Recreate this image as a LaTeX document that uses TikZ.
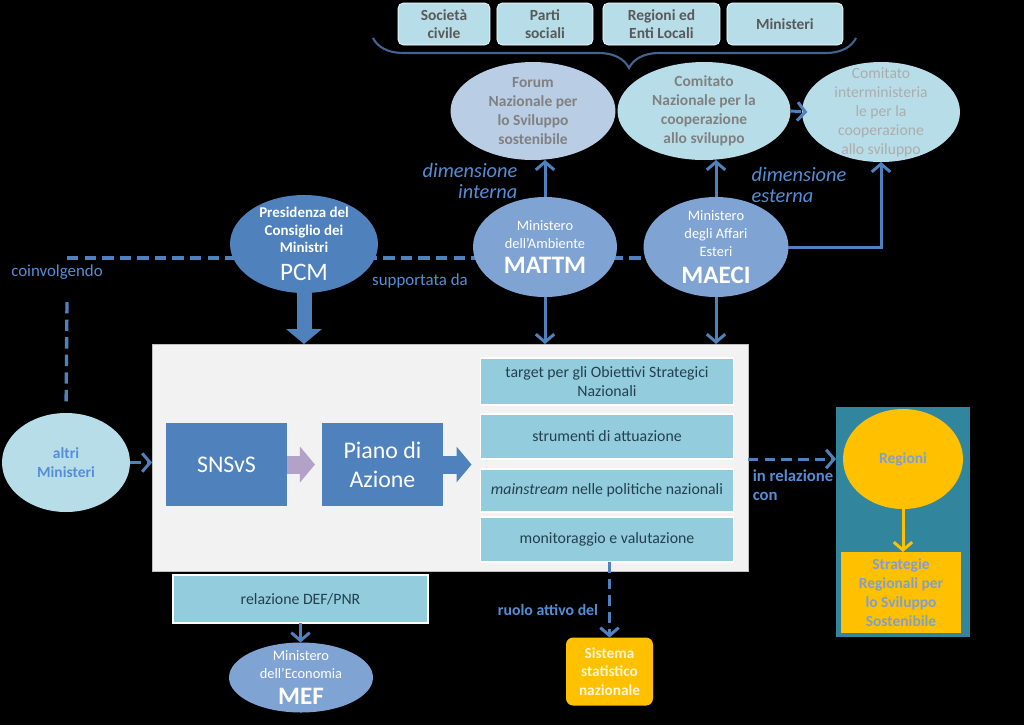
\documentclass[tikz,border=0pt]{standalone}
\usepackage{fontspec}
\setmainfont{Carlito}
\usepackage{tikz}
\usetikzlibrary{shapes.geometric, arrows.meta, positioning, backgrounds, decorations.pathreplacing}

\definecolor{accblue}{HTML}{4F81BD}
\definecolor{midblue}{HTML}{7FA3D3}
\definecolor{paleblue}{HTML}{B9CDE5}
\definecolor{paleteal}{HTML}{B7DEE8}
\definecolor{listteal}{HTML}{93CDDD}
\definecolor{darkteal}{HTML}{31859C}
\definecolor{gold}{HTML}{FFC000}
\definecolor{boxgrey}{HTML}{F2F2F2}
\definecolor{lavender}{HTML}{B3A2C7}
\definecolor{labblue}{HTML}{558ED5}
\definecolor{txtgrey}{HTML}{595959}
\definecolor{txtdark}{HTML}{243F4F}
\definecolor{bracecol}{HTML}{44638F}
\definecolor{regtxt}{HTML}{7F9FD0}
\definecolor{goldtxt}{HTML}{FFF5D6}

\newcommand{\fsz}[2]{\fontsize{#1}{#2}\selectfont}

\begin{document}
\begin{tikzpicture}[
    x=0.02cm, y=-0.02cm,
    every node/.style={inner sep=0pt, outer sep=0pt},
    grp/.style={rectangle, rounded corners=3pt, fill=paleteal, draw=white,
                line width=0.4pt, minimum height=0.84cm, align=center,
                text=txtgrey, font=\fsz{8.8}{10.2}\bfseries},
    oval/.style={ellipse, inner sep=-15pt, align=center},
    organo/.style={oval, fill=paleteal, minimum height=1.96cm, text=gray,
                   font=\fsz{8.8}{10.8}\bfseries},
    mini/.style={oval, fill=midblue, text=white, font=\fsz{8.2}{10.2}},
    voce/.style={rectangle, fill=listteal, draw=white, line width=1pt,
                 minimum width=5.06cm, align=center, text=txtdark,
                 font=\fsz{9}{10.8}},
    blocco/.style={rectangle, fill=accblue, minimum width=2.42cm,
                   minimum height=1.66cm, align=center, text=white,
                   font=\fsz{13.6}{16.5}},
    oro/.style={fill=gold, align=center, text=regtxt,
                font=\fsz{8.8}{10.8}\bfseries},
    lab/.style={text=labblue, font=\fsz{9.6}{11}},
    dimlab/.style={text=labblue, font=\fsz{11.6}{12.2}\itshape},
    arr/.style={draw=accblue, line width=1.7pt,
                -{Straight Barb[length=4.5pt, width=10.5pt]}},
    darr/.style={arr, dash pattern=on 6pt off 3.5pt},
    dline/.style={draw=accblue, line width=1.9pt, dash pattern=on 6.5pt off 3.5pt},
    fat/.style={line width=#1, -{Triangle[width=0.7cm, length=0.3cm]}}
  ]

  \begin{scope}[on background layer]
    \fill[black] (0,0) rectangle (1024,725);
  \end{scope}
  \useasboundingbox (0,0) rectangle (1024,725);

  %% Attori coinvolti
  \node[grp, minimum width=1.84cm] (soc) at (444,24) {Società\\civile};
  \node[grp, minimum width=1.92cm, right=0.14cm of soc] (parti) {Parti\\sociali};
  \node[grp, minimum width=2.34cm, right=0.2cm of parti] (regenti) {Regioni ed\\Enti Locali};
  \node[grp, minimum width=2.32cm, right=0.14cm of regenti] (minist) {Ministeri};

  \coordinate (brL) at (373,38);
  \coordinate (brR) at (856,38);
  \draw[bracecol, line width=1.2pt, decorate,
        decoration={brace, mirror, amplitude=0.6cm, aspect=0.53}] (brL) -- (brR);

  %% Organi
  \node[organo, fill=paleblue, minimum width=3.3cm] (forum) at (533,111)
       {Forum\\Nazionale per\\lo Sviluppo\\sostenibile};
  \node[organo, minimum width=3.46cm] (comnaz) at (704,111)
       {Comitato\\Nazionale per la\\cooperazione\\allo sviluppo};
  \node[organo, minimum width=3.16cm, minimum height=2cm, text=gray!65,
        font=\fsz{8.9}{10.8}] (cics) at (881,112)
       {Comitato\\interministeria\\le per la\\cooperazione\\allo sviluppo};

  %% Ministeri
  \node[mini, fill=accblue, minimum width=2.96cm, minimum height=1.96cm,
        font=\fsz{8.5}{10}\bfseries] (pcm) at (304,244)
       {Presidenza del\\Consiglio dei\\Ministri\\[6pt]\mdseries\fsz{14.3}{16}PCM};
  \node[mini, minimum width=2.88cm, minimum height=2cm] (mattm) at (545,247)
       {Ministero\\dell’Ambiente\\[4pt]\fsz{14.3}{16}\bfseries MATTM};
  \node[mini, minimum width=2.9cm, minimum height=2cm] (maeci) at (716,247)
       {Ministero\\degli Affari\\Esteri\\[5pt]\fsz{14.3}{16}\bfseries MAECI};

  \node[dimlab, align=right] (dimint) at (470,181) {dimensione\\interna};
  \node[dimlab, align=left] (dimest) at (799,185) {dimensione\\esterna};
  \node[lab] (coinv) at (57,272) {coinvolgendo};
  \node[lab] (supp) at (420,281) {supportata da};

  %% Strategia e Piano
  \node[rectangle, fill=boxgrey, draw=gray!50, line width=0.5pt,
        minimum width=11.92cm, minimum height=4.54cm] (pan) at (450,457.5) {};
  \node[blocco] (snsvs) at (226.5,464.5) {SNSvS};
  \node[blocco, right=0.7cm of snsvs] (piano) {Piano di\\Azione};

  \node[voce, minimum height=0.94cm] (obj) at (607,381.5)
       {target per gli Obiettivi Strategici\\Nazionali};
  \node[voce, minimum height=0.9cm, below=0.18cm of obj] (strum) {strumenti di attuazione};
  \node[voce, minimum height=0.86cm, below=0.2cm of strum] (mainst)
       {\emph{mainstream} nelle politiche nazionali};
  \node[voce, minimum height=0.9cm, below=0.1cm of mainst] (monit) {monitoraggio e valutazione};

  \node[voce, minimum width=5.1cm, minimum height=0.96cm] (defpnr) at (300.5,599)
       {relazione DEF/PNR};
  \node[mini, minimum width=2.88cm, minimum height=1.4cm] (mef) at (301,677.5)
       {Ministero\\dell’Economia\\[5pt]\fsz{14.3}{16}\bfseries MEF};

  \node[rectangle, rounded corners=4pt, fill=gold, minimum width=1.74cm,
        minimum height=1.36cm, align=center, text=goldtxt,
        font=\fsz{8.7}{10.6}\bfseries] (sistan) at (609.5,671.5)
       {Sistema\\statistico\\nazionale};
  \node[lab, font=\fsz{9}{11}\bfseries] (ruolo) at (548,610) {ruolo attivo del};

  \node[oval, fill=paleteal, minimum width=2.56cm, minimum height=1.98cm,
        text=labblue, font=\fsz{8.8}{10.8}\bfseries] (altri) at (66,462.5)
       {altri\\Ministeri};

  %% Regioni
  \node[rectangle, fill=darkteal, minimum width=2.68cm, minimum height=4.6cm]
       (regsez) at (903,522) {};
  \node[oval, oro, minimum width=2.4cm, minimum height=2cm] (regioni) at (903,459) {Regioni};
  \node[rectangle, oro, minimum width=2.4cm, minimum height=1.62cm] (srsvs) at (901,592.5)
       {Strategie\\Regionali per\\lo Sviluppo\\Sostenibile};
  \node[lab, font=\fsz{9.5}{11}\bfseries, align=left] (inrel) at (793,485.5)
       {in relazione\\con};

  %% Frecce verso gli organi
  \draw[arr] (mattm.north) -- (mattm.north |- forum.south);
  \draw[arr] (maeci.north) -- (maeci.north |- comnaz.south);
  \draw[arr] (maeci.east) -| (cics.south);
  \draw[darr] (comnaz.east) -- ([xshift=3pt]cics.west);

  %% Frecce verso la strategia
  \draw[accblue, fat=0.3cm] (pcm.south) -- (pcm.south |- pan.north);
  \draw[arr] (mattm.south) -- (mattm.south |- pan.north);
  \draw[arr] (maeci.south) -- (maeci.south |- pan.north);
  \draw[lavender, fat=0.36cm, shorten >=0.14cm] (snsvs.east) -- (piano.west);
  \draw[accblue, fat=0.36cm, shorten >=0.18cm] (piano.east) -- (piano.east -| strum.west);

  \draw[darr] (altri.east) -- (altri.east -| pan.west);
  \draw[darr] (regioni -| pan.east) -- (regioni -| regsez.west);
  \draw[darr] (sistan.north |- monit.south) -- (sistan.north);
  \draw[arr] (defpnr.south) -- (defpnr.south |- mef.north);
  \draw[arr, draw=gold] (regioni.south) -- (regioni.south |- srsvs.north);

  %% Coinvolgimento (dietro i ministeri)
  \coordinate (angolo) at (67,258);
  \coordinate (sottolab) at (67,302);
  \begin{scope}[on background layer]
    \draw[dline] (angolo) -- (maeci.center |- angolo);
    \draw[dline, shorten >=0.2cm] (sottolab) -- (altri.north);
  \end{scope}

\end{tikzpicture}
\end{document}
